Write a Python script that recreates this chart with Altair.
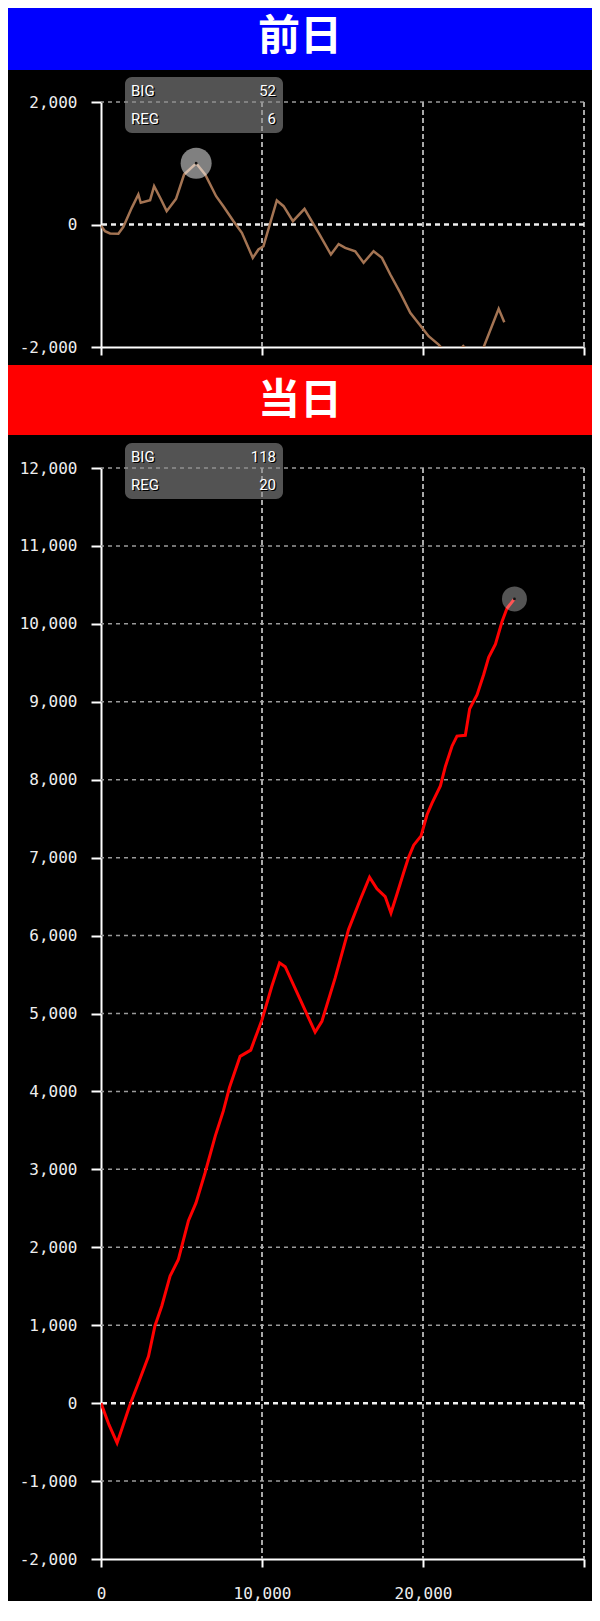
import altair as alt
import pandas as pd

# ---------------- data ----------------
banner_titles = ["前日", "当日"]
banner_colors = ["#0000ff", "#ff0000"]

count_labels = ["BIG", "REG"]
prev_counts = [52, 6]
today_counts = [118, 20]

prev_x = [0, 250, 560, 1080, 1390, 1910, 2320, 2470, 3050, 3300, 3730, 4080, 4660,
          5160, 5910, 6470, 7150, 7600, 8230, 8750, 9430, 9780, 10090, 10920, 11340,
          11920, 12640, 13570, 14280, 14760, 15170, 15790, 16310, 16930, 17450, 17970,
          18590, 19210, 19940, 20350, 20970, 21500, 22100, 22500, 23000, 23500, 23770,
          24700, 25050]
prev_y = [-20, -110, -147, -152, -38, 272, 490, 354, 397, 626, 408, 218, 419,
          816, 1000, 816, 462, 299, 54, -136, -544, -408, -354, 392, 299,
          54, 256, -163, -490, -320, -381, -436, -626, -436, -544, -817,
          -1116, -1442, -1687, -1824, -1960, -2120, -2100, -1985, -2120, -2100, -2000,
          -1377, -1595]

today_x = [0, 500, 1000, 1300, 1800, 2400, 2950, 3350, 3780, 4290, 4800, 5430, 5900,
           6470, 7100, 7600, 7980, 8640, 9300, 10000, 10610, 11090, 11440, 12370,
           13300, 13720, 14550, 15380, 16100, 16680, 17140, 17650, 18010, 18380, 18800,
           19100, 19420, 19880, 20250, 20560, 21080, 21390, 21800, 22110, 22630, 22900,
           23360, 23770, 24080, 24500, 24910, 25220, 25680]
today_y = [0, -280, -510, -330, -20, 300, 600, 990, 1250, 1630, 1840, 2340, 2570,
           2960, 3430, 3750, 4050, 4450, 4530, 4920, 5350, 5650, 5600, 5180,
           4760, 4900, 5460, 6080, 6460, 6750, 6600, 6500, 6290, 6530, 6810,
           7000, 7160, 7280, 7550, 7700, 7920, 8170, 8430, 8560, 8570, 8910,
           9090, 9350, 9570, 9740, 10030, 10200, 10320]

x_ticks = [0, 10000, 20000, 30000]
prev_y_ticks = [-2000, 0, 2000]
today_y_ticks = [-2000, -1000, 0, 1000, 2000, 3000, 4000, 5000, 6000, 7000,
                 8000, 9000, 10000, 11000, 12000]

W = 483
MONO = "DejaVu Sans Mono"
LABEL_EXPR_Y = "datum.value < 0 ? '-' + format(-datum.value, ',') : format(datum.value, ',')"
LABEL_EXPR_X = "datum.value >= 30000 ? '' : format(datum.value, ',')"


def panel(xs, ys, yticks, height, color, width_px, counts, hl_index, hl_size, hl_opacity,
          show_x_labels, banners):
    df = pd.DataFrame({"x": xs, "y": ys})
    xdom = [x_ticks[0], x_ticks[-1]]
    ydom = [yticks[0], yticks[-1]]
    xs_ = alt.Scale(domain=xdom, nice=False, zero=False)
    ys_ = alt.Scale(domain=ydom, nice=False, zero=False)

    x_axis = alt.Axis(values=x_ticks, grid=False, domainColor="white",
                      domainWidth=2, tickColor="white", tickSize=8,
                      tickWidth=2, labels=show_x_labels, labelFlush=False,
                      labelColor="#eeeeee", labelFont=MONO,
                      labelFontSize=16, labelPadding=26,
                      labelBaseline="middle", labelExpr=LABEL_EXPR_X, title=None)
    y_axis = alt.Axis(values=yticks, grid=False, domainColor="white",
                      domainWidth=2, tickColor="white", tickSize=10,
                      tickWidth=2, labelColor="#eeeeee", labelFont=MONO,
                      labelFontSize=16, labelPadding=14, labelFlush=False,
                      labelExpr=LABEL_EXPR_Y, title=None)

    def X(f):
        return alt.X(f, scale=xs_, axis=x_axis, title=None)

    def Y(f):
        return alt.Y(f, scale=ys_, axis=y_axis, title=None)

    hgrid = (alt.Chart(pd.DataFrame({"v": [t for t in yticks if t != 0 and t != yticks[0]]}))
             .mark_rule(color="#9a9a9a", strokeWidth=1.5, strokeDash=[4, 4])
             .encode(y=Y("v:Q")))
    vgrid = (alt.Chart(pd.DataFrame({"v": x_ticks[1:]}))
             .mark_rule(color="#a8a8a8", strokeWidth=2, strokeDash=[5, 3])
             .encode(x=X("v:Q")))
    zero = (alt.Chart(pd.DataFrame({"v": [0]}))
            .mark_rule(color="#f0f0f0", strokeWidth=2.5, strokeDash=[5, 4])
            .encode(y=Y("v:Q")))

    line = (alt.Chart(df).mark_line(color=color, strokeWidth=width_px, clip=True)
            .encode(x=X("x:Q"), y=Y("y:Q")))

    hl = pd.DataFrame({"x": [xs[hl_index]], "y": [ys[hl_index]]})
    halo = (alt.Chart(hl).mark_point(filled=True, shape="circle", size=hl_size,
                                     color="white", opacity=hl_opacity)
            .encode(x=X("x:Q"), y=Y("y:Q")))
    dot = (alt.Chart(hl).mark_point(filled=True, shape="circle", size=8,
                                    color="#111111", opacity=1)
           .encode(x=X("x:Q"), y=Y("y:Q")))

    one = pd.DataFrame({"k": [0]})
    box = (alt.Chart(one).mark_rect(cornerRadius=7, color="#8a8a8a", opacity=0.6)
           .encode(x=alt.value(24), x2=alt.value(182), y=alt.value(-25), y2=alt.value(31)))
    layers = [hgrid, vgrid, zero, line, halo, dot, box]

    rows_y = [-11.5, 17]
    for i, lab in enumerate(count_labels):
        d = pd.DataFrame({"label": [lab], "count": [str(counts[i])]})
        for off, col in [(1.2, "#000000"), (0, "#ffffff")]:
            layers.append(alt.Chart(d).mark_text(font="Roboto", fontSize=15, align="left",
                                                 baseline="middle", color=col)
                          .encode(x=alt.value(30 + off), y=alt.value(rows_y[i] + off),
                                  text="label:N"))
            layers.append(alt.Chart(d).mark_text(font="Roboto", fontSize=15, align="right",
                                                 baseline="middle", color=col)
                          .encode(x=alt.value(175 + off), y=alt.value(rows_y[i] + off),
                                  text="count:N"))

    for (title, bcol, y1, y2, ty) in banners:
        d = pd.DataFrame({"t": [title]})
        layers.insert(0, alt.Chart(d).mark_rect(color=bcol)
                      .encode(x=alt.value(-93), x2=alt.value(491), y=alt.value(y1),
                              y2=alt.value(y2)))
        layers.append(alt.Chart(d).mark_text(font="Noto Sans CJK JP", fontWeight="bold",
                                             fontSize=42, align="center", baseline="middle",
                                             color="white")
                      .encode(x=alt.value(199), y=alt.value(ty), text="t:N"))

    return alt.layer(*layers).properties(width=W, height=height)


top = panel(prev_x, prev_y, prev_y_ticks, 245, "#a47453", 2.5, prev_counts, 14, 961, 0.5,
            False,
            [(banner_titles[0], banner_colors[0], -94, -32, -65),
             (banner_titles[1], banner_colors[1], 263, 333, 299)])
bottom = panel(today_x, today_y, today_y_ticks, 1091, "#ff0000", 3, today_counts,
               len(today_x) - 1, 625, 0.33, True, [])

chart = (alt.vconcat(top, bottom, spacing=8)
         .properties(padding=0, background="black")
         .configure_view(strokeWidth=0))

chart.save("out.html", embed_options={"renderer": "svg", "actions": False})
